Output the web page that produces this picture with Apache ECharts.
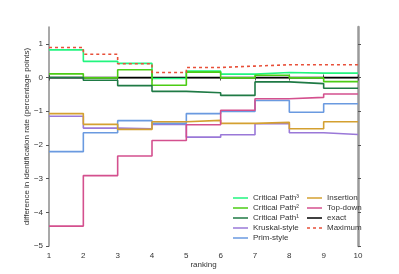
<!DOCTYPE html>
<html><head><meta charset="utf-8">
<script src="https://cdn.jsdelivr.net/npm/echarts@6/dist/echarts.min.js"></script>
<style>html,body{margin:0;padding:0;background:#fff}#c{width:399px;height:274px}</style>
</head><body><div id="c"></div>
<script>
const ranks = [1,2,3,4,5,6,7,8,9,10];
const yTicks = [-5,-4,-3,-2,-1,0,1];
const names = ['Critical Path\u00b3','Critical Path\u00b2','Critical Path\u00b9','Kruskal-style','Prim-style','Insertion','Top-down','exact','Maximum'];
// value for each rank segment [r, r+1), r = 1..9
const cp3       = [0.82, 0.48, 0.42, -0.03, 0.19, 0.10, 0.15, 0.13, 0.13];
const cp2       = [0.11, -0.01, 0.23, -0.23, 0.16, -0.01, 0.07, -0.01, -0.12];
const cp1       = [0.00, -0.08, -0.24, -0.41, -0.45, -0.53, -0.13, -0.18, -0.32];
const kruskal   = [-1.15, -1.50, -1.52, -1.39, -1.77, -1.70, -1.37, -1.64, -1.69];
const prim      = [-2.20, -1.64, -1.28, -1.36, -1.07, -1.01, -0.68, -1.03, -0.78];
const insertion = [-1.07, -1.39, -1.54, -1.31, -1.27, -1.36, -1.33, -1.52, -1.31];
const topdown   = [-4.41, -2.91, -2.33, -1.87, -1.40, -0.97, -0.63, -0.59, -0.49];
const exact     = [0, 0, 0, 0, 0, 0, 0, 0, 0];
const maximum   = [0.89, 0.69, 0.41, 0.15, 0.30, 0.34, 0.38, 0.38, 0.38];
const colors = ['#22f57f','#4ccc14','#1f7a45','#9a78d8','#6a9ae0','#d4a030','#d4508e','#000000','#e8503a'];
const values = [cp3,cp2,cp1,kruskal,prim,insertion,topdown,exact,maximum];

function stepData(v){
  const d = v.map((y,i)=>[ranks[i], y]);
  d.push([ranks[ranks.length-1], v[v.length-1]]);
  return d;
}
const font = 'Liberation Sans, Arial, sans-serif';
const series = names.map((n,i)=>({
  name:n, type:'line', step:'end', symbol:'none', data:stepData(values[i]),
  lineStyle:{color:colors[i], width: 1.6, type: n==='Maximum' ? [3,3] : 'solid'},
  itemStyle:{color:colors[i]}, z: n==='exact' ? 1 : 3, silent:true, animation:false
}));
const solidIcon = 'path://M0,0h15v1.5h-15z';
const dashIcon = 'path://M0,0h3v1.5h-3z M6,0h3v1.5h-3z M12,0h3v1.5h-3z';
const legendData = names.map(n=>({name:n, icon: n==='Maximum' ? dashIcon : solidIcon}));
const axisLineGray = {show:true, lineStyle:{color:'#8c8c8c', width:1.5}};
const tickStyle = {show:true, length:3, inside:false, lineStyle:{color:'#555'}};
const minus = v => String(v).replace('-', '\u2212');
const legendCommon = {
  orient:'vertical', top:188, itemWidth:15, itemHeight:10, itemGap:0, symbolKeepAspect:true,
  textStyle:{fontFamily:font, fontSize:8, color:'#333', lineHeight:10}, selectedMode:false
};
const chart = echarts.init(document.getElementById('c'), null, {renderer:'canvas'});
chart.setOption({
  animation:false,
  grid:{left:49, right:41, top:27, bottom:28, containLabel:false, outerBoundsMode:'none'},
  xAxis:[{
    type:'value', min:1, max:10, interval:1, position:'bottom',
    name:'ranking', nameLocation:'middle', nameGap:15, nameMoveOverlap:false,
    nameTextStyle:{fontFamily:font, fontSize:8, color:'#333'},
    axisLine:axisLineGray, axisTick:tickStyle, splitLine:{show:false},
    axisLabel:{fontFamily:font, fontSize:8, color:'#333', margin:6}
  },{
    type:'value', min:1, max:10, interval:1, position:'top',
    axisLine:axisLineGray, axisTick:tickStyle, splitLine:{show:false}, axisLabel:{show:false}
  }],
  yAxis:[{
    type:'value', min:-5, max:1.5, position:'left',
    name:'difference in identification rate (percentage points)', nameLocation:'middle', nameGap:18,
    nameMoveOverlap:false,
    nameTextStyle:{fontFamily:font, fontSize:8, color:'#333'},
    axisLine:axisLineGray,
    axisTick:Object.assign({customValues:yTicks}, tickStyle), splitLine:{show:false},
    axisLabel:{customValues:yTicks, fontFamily:font, fontSize:8, color:'#333', margin:6, formatter:minus}
  },{
    type:'value', min:-5, max:1.5, position:'right',
    axisLine:{show:true, lineStyle:{color:'#9a9a9a', width:2.5}},
    axisTick:Object.assign({customValues:yTicks}, tickStyle), splitLine:{show:false},
    axisLabel:{show:false}
  }],
  legend:[
    Object.assign({data:legendData.slice(0,5), left:228}, legendCommon),
    Object.assign({data:legendData.slice(5), left:302}, legendCommon)
  ],
  series:series
});
</script></body></html>
